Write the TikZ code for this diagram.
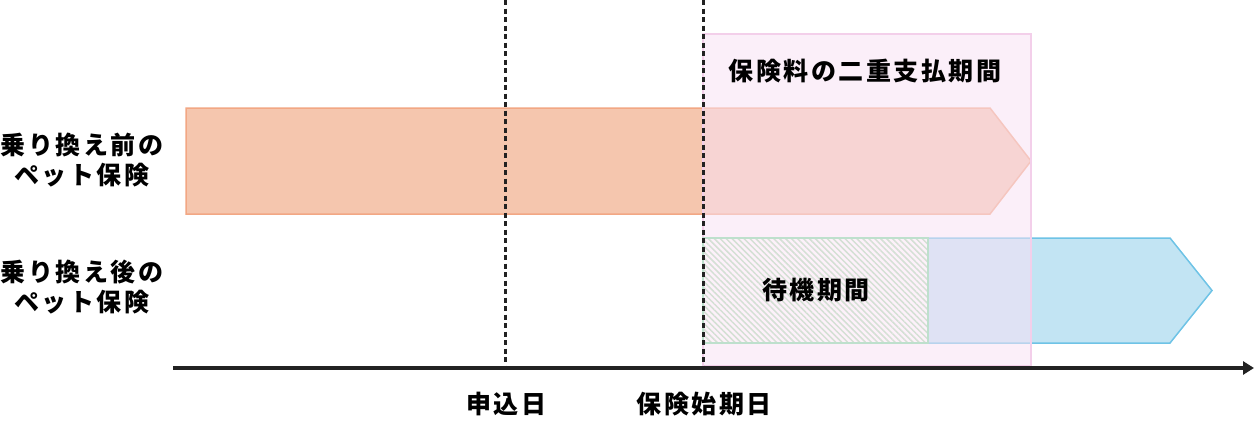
\documentclass[tikz,border=0pt]{standalone}
\usepackage{fontspec}
\setmainfont{Noto Sans CJK JP}[LetterSpace=10]
\usetikzlibrary{arrows.meta,patterns.meta}
\definecolor{orangefill}{RGB}{245,198,174}
\definecolor{orangeline}{RGB}{242,167,132}
\definecolor{bluefill}{RGB}{194,228,243}
\definecolor{blueline}{RGB}{110,195,230}
\definecolor{pinkfill}{RGB}{249,226,245}
\definecolor{pinkline}{RGB}{243,207,234}
\definecolor{pinkbg}{RGB}{253,241,250}
\definecolor{hatchcol}{RGB}{212,224,212}
\definecolor{greenline}{RGB}{190,224,205}
\definecolor{axiscol}{RGB}{34,34,34}
\begin{document}
\begin{tikzpicture}[x=1pt,y=-1pt,
  lbl/.style={font=\bfseries\fontsize{25}{30}\selectfont, inner sep=0pt, align=center, text=black},
  orangebar/.style={fill=orangefill, draw=orangeline, line width=1.5pt, line join=miter},
  bluebar/.style={fill=bluefill, draw=blueline, line width=1.5pt, line join=miter},
  guide/.style={draw=axiscol, line width=3pt, dash pattern=on 5pt off 3.5pt},
  axisline/.style={draw=axiscol, line width=4.5pt, -{Triangle[length=11pt,width=13pt]}}]
\useasboundingbox (0,0) rectangle (1255,439);
\fill[white] (0,0) rectangle (1255,439);
% bars
\draw[orangebar] (186,108) -- (990,108) -- (1031,161) -- (990,214) -- (186,214) -- cycle;
\draw[bluebar] (703,238) -- (1170,238) -- (1212,290.5) -- (1170,343) -- (703,343) -- cycle;
% double payment period overlay
\fill[pinkfill, fill opacity=0.53] (703,34) rectangle (1031,366);
\draw[pinkline, line width=1.5pt] (703,34) rectangle (1031,366);
% waiting period box
\fill[pinkbg] (703,238) rectangle (928,343);
\fill[pattern={Lines[angle=-45,distance=4.2pt,line width=1.5pt]}, pattern color=hatchcol] (703,238) rectangle (928,343);
\draw[greenline, line width=1.8pt] (703,238) rectangle (928,343);
% guide lines
\coordinate (apptop) at (505,0);
\coordinate (appbot) at (505,368);
\coordinate (starttop) at (703,0);
\coordinate (startbot) at (703,368);
\draw[guide] (apptop) -- (appbot);
\draw[guide] (starttop) -- (startbot);
% axis
\coordinate (axstart) at (173,368);
\coordinate (axend) at (1254,368);
\draw[axisline] (axstart) -- (axend);
% texts
\node[lbl] (title) at (865,71) {保険料の二重支払期間};
\node[lbl] (before) at (82,160) {乗り換え前の\\ペット保険};
\node[lbl] (after) at (82,287) {乗り換え後の\\ペット保険};
\node[lbl] (wait) at (816,290) {待機期間};
\node[lbl] (apply) at (506,404) {申込日};
\node[lbl] (start) at (704,404) {保険始期日};
\end{tikzpicture}
\end{document}
